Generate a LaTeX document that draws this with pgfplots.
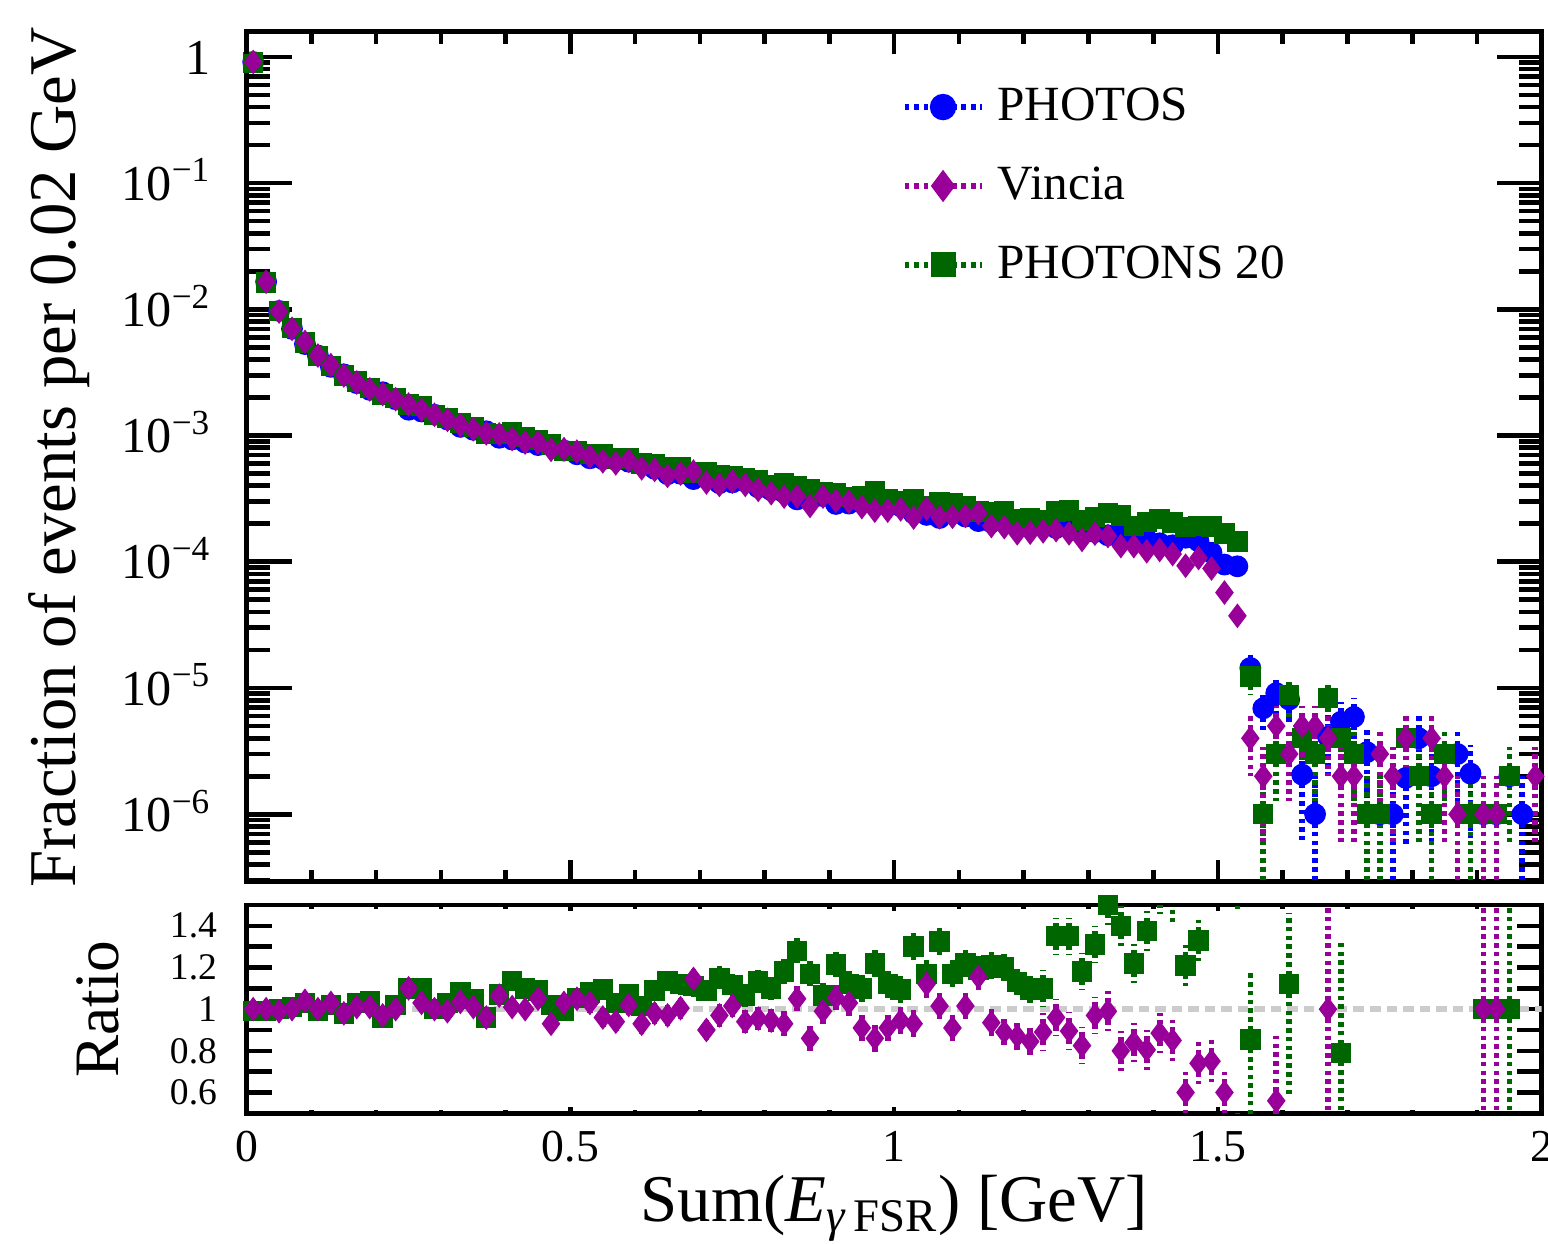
\documentclass[border=0pt]{standalone}
\usepackage{fontspec}
\setmainfont{Liberation Serif}
\usepackage{pgfplots}
\usepackage{pgfplotstable}
\pgfplotsset{compat=1.18}

\definecolor{cblue}{RGB}{0,0,255}
\definecolor{cpurp}{RGB}{153,0,153}
\definecolor{cgreen}{RGB}{0,102,0}
\definecolor{cgray}{RGB}{204,204,204}

% bins of 0.02 GeV: PHOTOS (p), Vincia (v), PHOTONS 20 (g)
\pgfplotstableread{
x p v g
0.01 0.91 0.91 0.90
0.03 0.0165 0.0165 0.0163
0.05 0.0097 0.0096 0.0097
0.07 0.0070 0.0070 0.00707
0.09 0.0053 0.00551 0.00546
0.11 0.0043 0.0043 0.00426
0.13 0.0035 0.00361 0.00357
0.15 0.00305 0.00299 0.00299
0.17 0.0026 0.00263 0.00268
0.19 0.0023 0.00232 0.00239
0.21 0.0022 0.00213 0.00211
0.23 0.00194 0.00194 0.00198
0.25 0.0016 0.00176 0.00176
0.27 0.00155 0.0016 0.00171
0.29 0.00146 0.00146 0.00146
0.31 0.00134 0.00133 0.00138
0.33 0.00117 0.00121 0.00126
0.35 0.00111 0.00112 0.00117
0.37 0.00108 0.00104 0.00104
0.39 0.00096 0.00102 0.00103
0.41 0.00093 0.00094 0.00106
0.43 0.00088 0.00088 0.00097
0.45 0.00084 0.00088 0.00092
0.47 0.00083 0.00077 0.00085
0.49 0.00076 0.00078 0.00075
0.51 0.00071 0.000746 0.00075
0.53 0.00066 0.00068 0.000713
0.55 0.00065 0.000624 0.000712
0.57 0.00064 0.000602 0.000659
0.59 0.00062 0.000632 0.000663
0.61 0.00059 0.000549 0.000599
0.63 0.000545 0.000534 0.000594
0.65 0.000494 0.000479 0.000561
0.67 0.000498 0.0005 0.000558
0.69 0.000452 0.000518 0.000502
0.71 0.000471 0.000424 0.000513
0.73 0.000419 0.000406 0.000482
0.75 0.000425 0.000431 0.000474
0.77 0.000432 0.000406 0.00046
0.79 0.000388 0.000371 0.00044
0.81 0.000369 0.000349 0.000406
0.83 0.000353 0.000328 0.000417
0.85 0.000312 0.000328 0.000399
0.87 0.000322 0.000277 0.000377
0.89 0.000331 0.000328 0.000353
0.91 0.000287 0.000303 0.000349
0.93 0.000289 0.000298 0.000324
0.95 0.000298 0.000271 0.000328
0.97 0.000295 0.000254 0.00036
0.99 0.000279 0.000254 0.000312
1.01 0.000275 0.00026 0.000301
1.03 0.000241 0.000224 0.000313
1.05 0.000235 0.000263 0.000275
1.07 0.000222 0.000225 0.000294
1.09 0.000249 0.000227 0.000291
1.11 0.000228 0.000231 0.000278
1.13 0.00021 0.000243 0.00025
1.15 0.000205 0.000192 0.000248
1.17 0.000211 0.000188 0.000253
1.19 0.000193 0.000168 0.000218
1.21 0.000201 0.00017 0.00022
1.23 0.000195 0.000174 0.000215
1.25 0.000185 0.000178 0.00025
1.27 0.000188 0.000168 0.000254
1.29 0.00018 0.000149 0.000212
1.31 0.000172 0.000167 0.000225
1.33 0.000162 0.00016 0.000243
1.35 0.000166 0.000133 0.000232
1.37 0.000158 0.000133 0.000193
1.39 0.00015 0.000121 0.000206
1.41 0.00014 0.000124 0.000217
1.43 0.000135 0.000115 0.000205
1.45 0.000155 0.000093 0.000188
1.47 0.000145 0.000107 0.000193
1.49 0.000118 0.0000885 0.00019
1.51 0.000095 0.000057 0.000168
1.53 0.000092 0.0000373 0.000145
}\mainbins

% sparse tail above 1.54 GeV, with errors
\pgfplotstableread{
x y ep em
1.55 1.44e-5 3.8e-6 3.8e-6
1.57 6.9e-6 2.6e-6 2.6e-6
1.59 9.1e-6 3.0e-6 3.0e-6
1.61 8.1e-6 2.85e-6 2.85e-6
1.63 2.06e-6 1.44e-6 1.44e-6
1.65 1.0e-6 1.0e-6 0.99e-6
1.67 4.1e-6 2.0e-6 2.0e-6
1.69 5.4e-6 2.3e-6 2.3e-6
1.71 5.9e-6 2.4e-6 2.4e-6
1.73 3.1e-6 1.76e-6 1.76e-6
1.75 1.0e-6 1.0e-6 0.99e-6
1.77 1.0e-6 1.0e-6 0.99e-6
1.79 1.94e-6 1.4e-6 1.4e-6
1.81 4.0e-6 2.0e-6 2.0e-6
1.83 2.0e-6 1.41e-6 1.41e-6
1.87 3.0e-6 1.73e-6 1.73e-6
1.89 2.1e-6 1.45e-6 1.45e-6
1.91 1.0e-6 1.0e-6 0.99e-6
1.93 1.0e-6 1.0e-6 0.99e-6
1.95 2.0e-6 1.41e-6 1.41e-6
1.97 1.0e-6 1.0e-6 0.99e-6
}\ptail

\pgfplotstableread{
x y ep em
1.55 4e-6 2e-6 2e-6
1.57 2e-6 1.41e-6 1.41e-6
1.59 5e-6 2.24e-6 2.24e-6
1.61 3e-6 1.73e-6 1.73e-6
1.63 5e-6 2.24e-6 2.24e-6
1.65 5e-6 2.24e-6 2.24e-6
1.67 4e-6 2e-6 2e-6
1.69 2e-6 1.41e-6 1.41e-6
1.71 2e-6 1.41e-6 1.41e-6
1.75 3e-6 1.73e-6 1.73e-6
1.77 2e-6 1.41e-6 1.41e-6
1.79 4e-6 2e-6 2e-6
1.83 4e-6 2e-6 2e-6
1.85 2e-6 1.41e-6 1.41e-6
1.87 1e-6 1e-6 0.99e-6
1.91 1e-6 1e-6 0.99e-6
1.93 1e-6 1e-6 0.99e-6
1.99 2e-6 1.41e-6 1.41e-6
}\vtail

\pgfplotstableread{
x y ep em
1.55 1.23e-5 3.5e-6 3.5e-6
1.57 1e-6 1e-6 0.99e-6
1.59 3e-6 1.73e-6 1.73e-6
1.61 8.8e-6 3e-6 3e-6
1.63 4e-6 2e-6 2e-6
1.65 3e-6 1.73e-6 1.73e-6
1.67 8.3e-6 2.9e-6 2.9e-6
1.69 4e-6 2e-6 2e-6
1.71 3e-6 1.73e-6 1.73e-6
1.73 1e-6 1e-6 0.99e-6
1.75 1e-6 1e-6 0.99e-6
1.79 4e-6 2e-6 2e-6
1.81 2e-6 1.41e-6 1.41e-6
1.83 1e-6 1e-6 0.99e-6
1.85 3e-6 1.73e-6 1.73e-6
1.89 1e-6 1e-6 0.99e-6
1.91 1e-6 1e-6 0.99e-6
1.93 1e-6 1e-6 0.99e-6
1.95 2e-6 1.41e-6 1.41e-6
}\gtail

% ratios to PHOTOS: Vincia (rv), PHOTONS 20 (rg), error e
\pgfplotstableread{
x rv rg e
0.01 1.00 0.99 0.01
0.03 1.00 0.99 0.01
0.05 0.99 1.00 0.01
0.07 1.00 1.01 0.015
0.09 1.04 1.03 0.015
0.11 1.00 0.99 0.015
0.13 1.03 1.02 0.02
0.15 0.98 0.98 0.02
0.17 1.01 1.03 0.02
0.19 1.01 1.04 0.02
0.21 0.97 0.96 0.02
0.23 1.00 1.02 0.03
0.25 1.10 1.10 0.03
0.27 1.03 1.10 0.03
0.29 1.00 1.00 0.03
0.31 0.99 1.03 0.03
0.33 1.035 1.08 0.035
0.35 1.01 1.05 0.035
0.37 0.96 0.96 0.035
0.39 1.065 1.07 0.035
0.41 1.01 1.135 0.035
0.43 1.00 1.10 0.04
0.45 1.05 1.09 0.04
0.47 0.93 1.02 0.04
0.49 1.03 0.99 0.04
0.51 1.05 1.055 0.04
0.53 1.03 1.08 0.045
0.55 0.96 1.095 0.045
0.57 0.94 1.03 0.045
0.59 1.02 1.07 0.045
0.61 0.93 1.015 0.045
0.63 0.98 1.09 0.05
0.65 0.97 1.135 0.05
0.67 1.005 1.12 0.05
0.69 1.145 1.11 0.05
0.71 0.90 1.09 0.05
0.73 0.97 1.15 0.055
0.75 1.015 1.115 0.055
0.77 0.94 1.065 0.055
0.79 0.955 1.135 0.055
0.81 0.945 1.10 0.055
0.83 0.93 1.18 0.06
0.85 1.05 1.28 0.06
0.87 0.86 1.17 0.06
0.89 0.99 1.065 0.06
0.91 1.055 1.215 0.06
0.93 1.03 1.12 0.065
0.95 0.91 1.10 0.065
0.97 0.86 1.22 0.065
0.99 0.91 1.12 0.065
1.01 0.945 1.095 0.065
1.03 0.93 1.30 0.07
1.05 1.12 1.17 0.07
1.07 1.015 1.325 0.07
1.09 0.91 1.17 0.07
1.11 1.015 1.22 0.07
1.13 1.155 1.19 0.075
1.15 0.935 1.21 0.075
1.17 0.89 1.20 0.075
1.19 0.87 1.13 0.075
1.21 0.845 1.095 0.075
1.23 0.89 1.10 0.09
1.25 0.96 1.35 0.09
1.27 0.895 1.35 0.09
1.29 0.825 1.18 0.09
1.31 0.97 1.31 0.09
1.33 0.99 1.50 0.095
1.35 0.80 1.40 0.095
1.37 0.84 1.22 0.095
1.39 0.805 1.375 0.095
1.41 0.885 1.55 0.095
1.43 0.85 1.52 0.1
1.45 0.60 1.21 0.1
1.47 0.74 1.33 0.1
1.49 0.75 1.60 0.1
1.51 0.60 1.77 0.1
1.53 0.40 1.58 0.1
}\ratios

\pgfplotstableread{
x y ep em
1.59 0.56 0.31 0.40
1.67 1.00 1.00 1.00
1.91 1.00 1.00 1.00
1.93 1.00 1.00 1.00
}\rvtail

\pgfplotstableread{
x y ep em
1.55 0.855 0.33 0.50
1.61 1.12 0.34 0.535
1.69 0.79 0.54 0.40
1.91 1.00 1.00 1.00
1.93 1.00 1.00 1.00
1.95 1.00 1.00 1.00
}\rgtail

\pgfplotsset{
  panel/.style={scale only axis, width=12.95cm, xmin=0, xmax=2,
    axis line style={line width=1.35pt},
    tick style={black, line width=1.3pt},
    tick align=inside, clip=true,
    /pgf/number format/assume math mode=true},
  ebar/.style={error bars/y dir=both, error bars/y explicit,
    error bars/error mark=none,
    error bars/error bar style={line width=1.6pt, dash pattern=on 1.3pt off 1.2pt}},
  mphotos/.style={only marks, cblue, mark=*, mark size=2.9pt},
  mvincia/.style={only marks, cpurp, mark=diamond*, mark size=3.2pt},
  mphotons/.style={only marks, cgreen, mark=square*, mark size=2.7pt},
  dotleg/.style={line width=1.7pt, dash pattern=on 1.4pt off 1.3pt, mark options={solid}},
}

\begin{document}
\begin{tikzpicture}
\path[use as bounding box] (-2.467,-3.613) rectangle (13.013,8.817);

% upper panel
\begin{axis}[panel, name=top, at={(0cm,0cm)}, anchor=south west, height=8.50cm,
  ymode=log, ymin=2.92e-7, ymax=1.58,
  xtick=\empty,
  ytick={1e-6,1e-5,1e-4,1e-3,1e-2,1e-1,1},
  yticklabels={10\textsuperscript{−6},10\textsuperscript{−5},10\textsuperscript{−4},10\textsuperscript{−3},10\textsuperscript{−2},10\textsuperscript{−1},1},
  minor ytick={3e-7,4e-7,5e-7,6e-7,7e-7,8e-7,9e-7,
    2e-6,3e-6,4e-6,5e-6,6e-6,7e-6,8e-6,9e-6,
    2e-5,3e-5,4e-5,5e-5,6e-5,7e-5,8e-5,9e-5,
    2e-4,3e-4,4e-4,5e-4,6e-4,7e-4,8e-4,9e-4,
    2e-3,3e-3,4e-3,5e-3,6e-3,7e-3,8e-3,9e-3,
    2e-2,3e-2,4e-2,5e-2,6e-2,7e-2,8e-2,9e-2,
    0.2,0.3,0.4,0.5,0.6,0.7,0.8,0.9},
  major tick length=0.45cm, minor tick length=0.23cm,
  yticklabel style={font=\fontsize{14.3}{17}\selectfont, anchor=base east,
    inner sep=0pt, xshift=-0.35cm, yshift=-4.9pt},
  legend cell align=left,
  legend style={draw=none, fill=none, at={(rel axis cs:0.497,0.951)},
    anchor=north west, font=\fontsize{14}{17}\selectfont, row sep=0.27cm,
    /tikz/every odd column/.style={column sep=0.06cm}},
  legend image code/.code={\draw[mark repeat=2, mark phase=2, #1]
    plot coordinates {(0cm,0cm) (0.385cm,0cm) (0.77cm,0cm)};},
]
\addlegendimage{cblue, dotleg, mark=*, mark size=2.9pt}
\addlegendentry{PHOTOS}
\addlegendimage{cpurp, dotleg, mark=diamond*, mark size=3.2pt}
\addlegendentry{Vincia}
\addlegendimage{cgreen, dotleg, mark=square*, mark size=2.7pt}
\addlegendentry{PHOTONS 20}

\addplot[mphotos, forget plot] table[x=x, y=p] {\mainbins};
\addplot[mphotos, ebar, forget plot] table[x=x, y=y, y error plus=ep, y error minus=em] {\ptail};
\addplot[mphotons, forget plot] table[x=x, y=g] {\mainbins};
\addplot[mphotons, ebar, forget plot] table[x=x, y=y, y error plus=ep, y error minus=em] {\gtail};
\addplot[mvincia, forget plot] table[x=x, y=v] {\mainbins};
\addplot[mvincia, ebar, forget plot] table[x=x, y=y, y error plus=ep, y error minus=em] {\vtail};
\end{axis}

% x ticks of the upper panel (shorter than the y ticks)
\begin{axis}[panel, at={(top.south west)}, anchor=south west, height=8.50cm,
  ymin=0, ymax=1, axis line style={draw=none}, ytick=\empty,
  xtick={0,0.5,1,1.5,2}, minor xtick={0.1,0.2,0.3,0.4,0.6,0.7,0.8,0.9,1.1,1.2,1.3,1.4,1.6,1.7,1.8,1.9},
  xticklabels={}, major tick length=0.22cm, minor tick length=0.12cm]
\end{axis}

% ratio panel
\begin{axis}[panel, name=ratio, at={(top.south west)}, anchor=north west, yshift=-0.233cm,
  height=2.083cm,
  ymin=0.5, ymax=1.5, xtick=\empty,
  ytick={0.6,0.8,1,1.2,1.4}, minor ytick={0.7,0.9,1.1,1.3},
  major tick length=0.25cm, minor tick length=0.25cm,
  yticklabel style={font=\fontsize{10.7}{12}\selectfont, inner sep=0pt, xshift=-0.29cm}]
\addplot[cgray, line width=1.6pt, dash pattern=on 3pt off 1.7pt] coordinates {(0,1) (2,1)};
\addplot[mphotons, ebar] table[x=x, y=rg, y error=e] {\ratios};
\addplot[mphotons, ebar] table[x=x, y=y, y error plus=ep, y error minus=em] {\rgtail};
\addplot[mvincia, ebar] table[x=x, y=rv, y error=e] {\ratios};
\addplot[mvincia, ebar] table[x=x, y=y, y error plus=ep, y error minus=em] {\rvtail};
\end{axis}

% x ticks and labels of the ratio panel
\begin{axis}[panel, at={(ratio.south west)}, anchor=south west, height=2.083cm,
  ymin=0, ymax=1, axis line style={draw=none}, ytick=\empty,
  xtick={0,0.5,1,1.5,2}, minor xtick={0.1,0.2,0.3,0.4,0.6,0.7,0.8,0.9,1.1,1.2,1.3,1.4,1.6,1.7,1.8,1.9},
  major tick length=0.06cm, minor tick length=0.035cm,
  xticklabel style={font=\fontsize{13}{15}\selectfont, anchor=north, inner sep=0pt, yshift=-0.17cm}]
\end{axis}

\node[rotate=90, anchor=base, font=\fontsize{19}{22}\selectfont] at (-1.707,4.242) {Fraction of events per 0.02 GeV};
\node[rotate=90, anchor=base, font=\fontsize{18}{21}\selectfont] at (-1.277,-1.273) {Ratio};
\node[anchor=base, font=\fontsize{19}{22}\selectfont] at (6.475,-3.40) {Sum(\textit{E}\textsubscript{\textit{γ}\,FSR}) [GeV]};
\end{tikzpicture}
\end{document}
